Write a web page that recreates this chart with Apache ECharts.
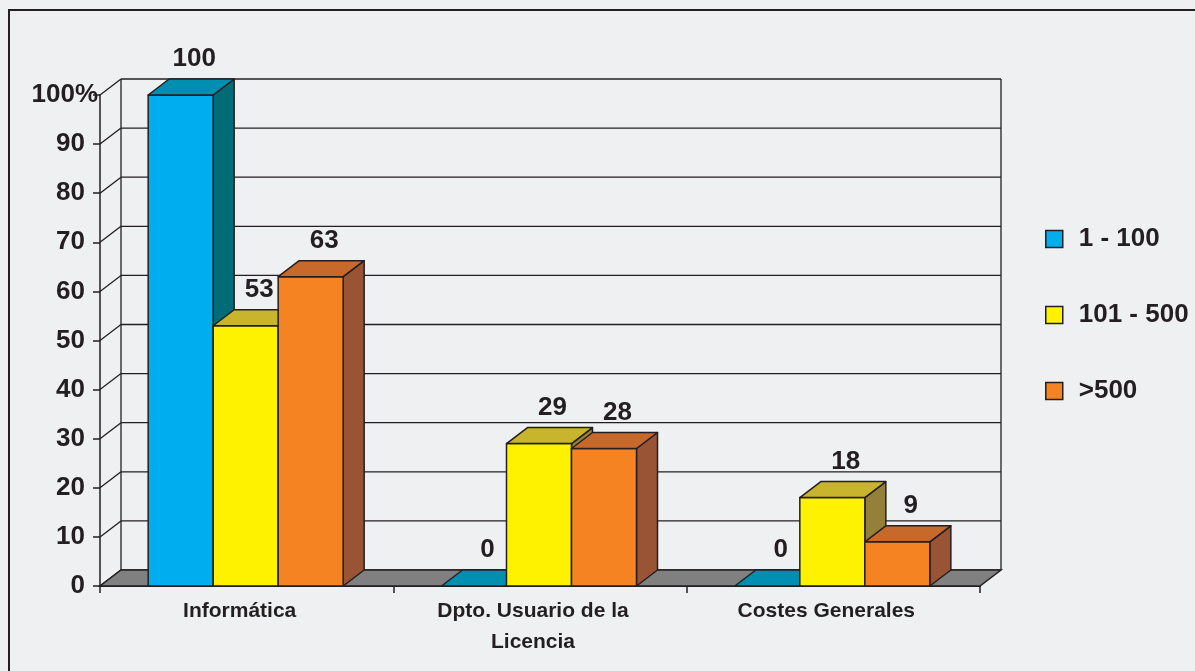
<!DOCTYPE html>
<html><head><meta charset="utf-8">
<script src="https://cdn.jsdelivr.net/npm/echarts@6/dist/echarts.min.js"></script>
<style>html,body{margin:0;padding:0;background:#eff0f2;}#c{width:1195px;height:671px;}</style>
</head><body><div id="c"></div>
<script>
// ---- data ----
const categories = ['Informática', 'Dpto. Usuario de la\nLicencia', 'Costes Generales'];
const seriesNames = ['1 - 100', '101 - 500', '>500'];
const values1 = [100, 0, 0];
const values2 = [53, 29, 18];
const values3 = [63, 28, 9];
const yTicks = [0, 10, 20, 30, 40, 50, 60, 70, 80, 90, 100];

// ---- styles ----
const INK = '#231f20';
const FONT = '"Liberation Sans", Arial, sans-serif';
const DX = 21, DY = -16;           // 3D depth offset
const BAR_FRAC = 0.2216;           // bar width as fraction of category band
const palette = [
  {front: '#00aeef', top: '#008fb0', side: '#006c78'},
  {front: '#fff200', top: '#c9b52d', side: '#948039'},
  {front: '#f58322', top: '#c8692c', side: '#985435'}
];
const allValues = [values1, values2, values3];

function barRender(k) {
  return function (params, api) {
    const ci = api.value(0), v = api.value(1);
    const base = api.coord([ci, 0]);
    const top = api.coord([ci, v]);
    const band = api.size([1, 0])[0];
    const bw = band * BAR_FRAC;
    const x0 = base[0] - 1.5 * bw + k * bw - 1;
    const x1 = x0 + bw;
    const yB = base[1], yT = top[1];
    const c = palette[k];
    const st = {stroke: INK, lineWidth: 1.5, lineJoin: 'round'};
    const children = [];
    if (v > 0) {
      children.push({type: 'polygon', shape: {points: [[x1, yT], [x1 + DX, yT + DY], [x1 + DX, yB + DY], [x1, yB]]},
        style: Object.assign({fill: c.side}, st)});
      children.push({type: 'rect', shape: {x: x0, y: yT, width: bw, height: yB - yT},
        style: Object.assign({fill: c.front}, st)});
    }
    children.push({type: 'polygon', shape: {points: [[x0, yT], [x1, yT], [x1 + DX, yT + DY], [x0 + DX, yT + DY]]},
      style: Object.assign({fill: c.top}, st)});
    children.push({type: 'text', style: {text: String(v), x: (x0 + x1) / 2 + DX / 2 + 3, y: yT + DY - 20,
      align: 'center', verticalAlign: 'middle', fill: INK, font: 'bold 26px ' + FONT}});
    return {type: 'group', children: children};
  };
}

function wallRender(params, api) {
  const cs = params.coordSys;
  const v = api.value(1);
  const y = api.coord([0, v])[1];
  const yBase = api.coord([0, 0])[1];
  const xL = cs.x, xR = cs.x + cs.width;
  const ls = {stroke: INK, lineWidth: 1.3};
  const ch = [];
  ch.push({type: 'line', shape: {x1: xL, y1: y, x2: xL + DX, y2: y + DY}, style: ls});
  ch.push({type: 'line', shape: {x1: xL + DX, y1: y + DY, x2: xR + DX, y2: y + DY}, style: ls});
  if (v === yTicks[yTicks.length - 1]) {
    ch.push({type: 'line', shape: {x1: xL + DX, y1: y + DY, x2: xL + DX, y2: yBase + DY}, style: ls});
    ch.push({type: 'line', shape: {x1: xR + DX, y1: y + DY, x2: xR + DX, y2: yBase + DY}, style: ls});
  }
  if (v === 0) {
    ch.push({type: 'polygon', shape: {points: [[xL, y], [xR, y], [xR + DX, y + DY], [xL + DX, y + DY]]},
      style: {fill: '#808080', stroke: INK, lineWidth: 1.5}});
  }
  return {type: 'group', children: ch};
}

const chart = echarts.init(document.getElementById('c'));
const series = [{
  type: 'custom', name: 'walls', silent: true, renderItem: wallRender,
  data: yTicks.map(v => [0, v]), z: 1
}];
seriesNames.forEach((name, k) => {
  series.push({
    type: 'custom', name: name, renderItem: barRender(k), z: 2,
    itemStyle: {color: palette[k].front, borderColor: INK, borderWidth: 1.5},
    data: categories.map((c, i) => [i, allValues[k][i]])
  });
});

chart.setOption({
  backgroundColor: '#eff0f2',
  animation: false,
  graphic: [{type: 'rect', shape: {x: 9, y: 10, width: 1200, height: 700},
    style: {fill: 'none', stroke: INK, lineWidth: 2}, z: 0, silent: true}],
  grid: {left: 100, right: 215, top: 95, bottom: 85, containLabel: false},
  legend: {
    data: seriesNames, orient: 'vertical', left: 1040, top: 221, itemWidth: 17, itemHeight: 17,
    itemGap: 50, icon: 'rect',
    itemStyle: {borderColor: INK, borderWidth: 1.5},
    textStyle: {fontSize: 26, fontWeight: 'bold', color: INK, fontFamily: FONT, padding: [0, 0, 0, 11]}
  },
  xAxis: {
    type: 'category', data: categories,
    axisLine: {lineStyle: {color: INK, width: 2}},
    axisTick: {show: true, length: 7, lineStyle: {color: INK, width: 1.5}},
    axisLabel: {interval: 0, fontSize: 21, fontWeight: 'bold', color: INK, fontFamily: FONT,
      lineHeight: 31, margin: 10, padding: [0, 14, 0, 0]},
    splitLine: {show: false}
  },
  yAxis: {
    type: 'value', min: 0, max: 100, interval: 10,
    axisLine: {show: true, lineStyle: {color: INK, width: 1.5}},
    axisTick: {show: true, length: 7, lineStyle: {color: INK, width: 1.5}},
    splitLine: {show: false},
    axisLabel: {
      margin: 2, color: INK, fontFamily: FONT, fontSize: 26, fontWeight: 'bold',
      formatter: v => v === 100 ? '{p|100%}' : '{n|' + v + '}',
      rich: {
        p: {fontSize: 26, fontWeight: 'bold', color: INK, fontFamily: FONT},
        n: {fontSize: 26, fontWeight: 'bold', color: INK, fontFamily: FONT, padding: [0, 13, 0, 0]}
      }
    }
  },
  series: series
});
</script></body></html>
